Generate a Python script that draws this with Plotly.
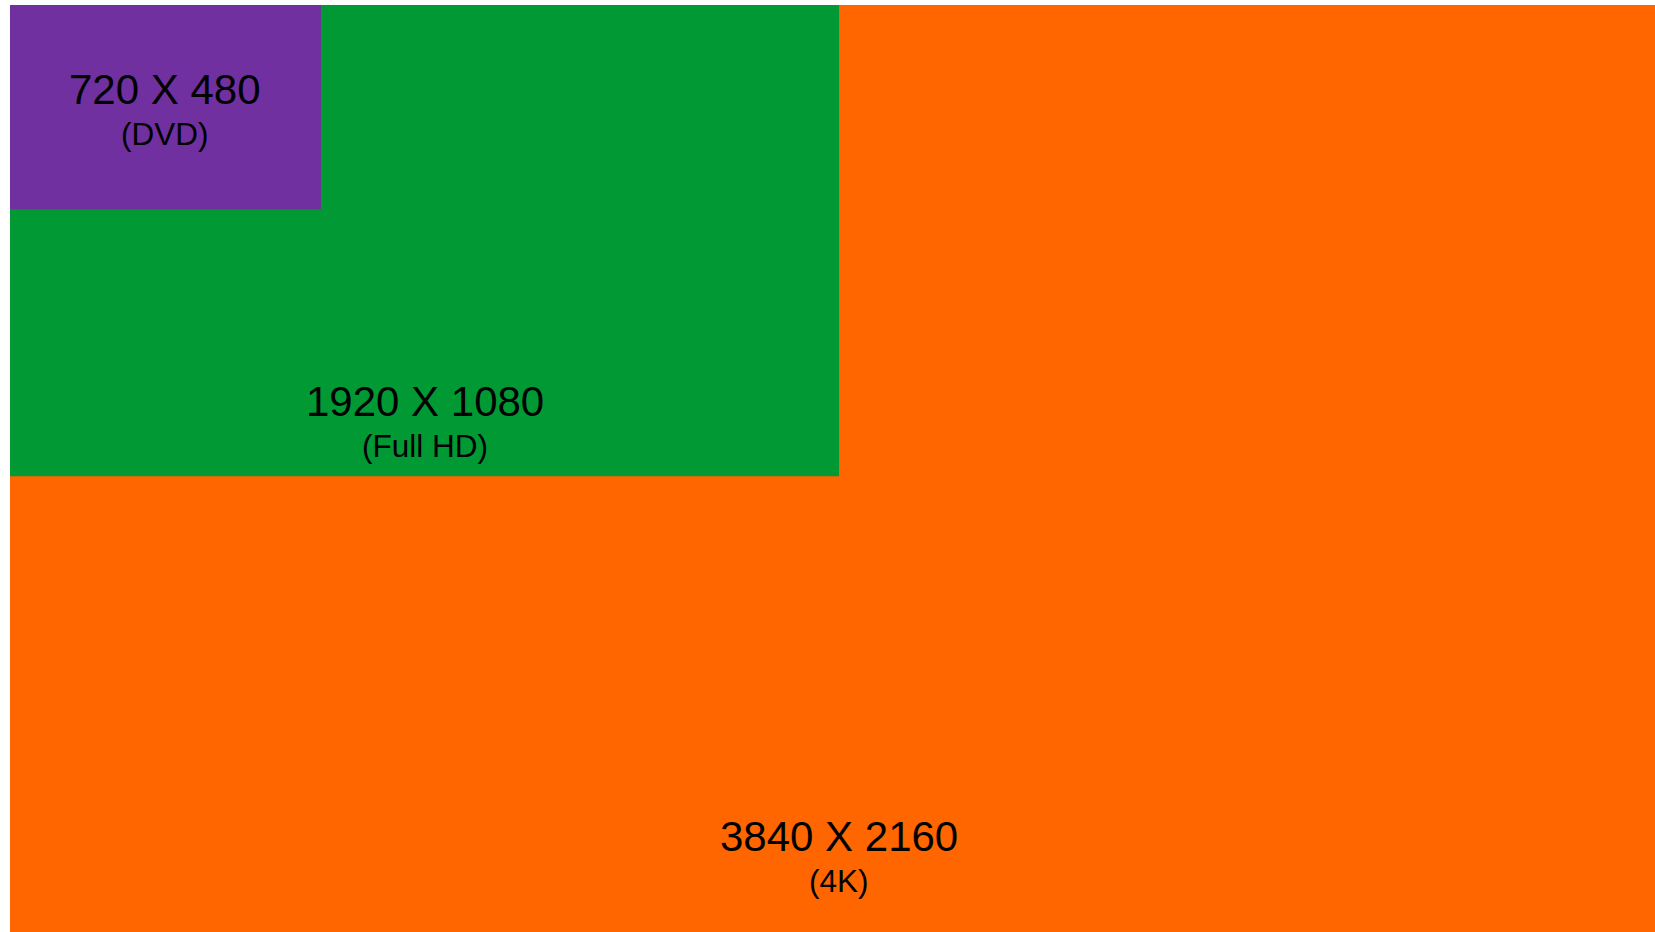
import plotly.graph_objects as go

# Data
names = ["3840 X 2160", "1920 X 1080", "720 X 480"]
subtitles = ["(4K)", "(Full HD)", "(DVD)"]
widths = [3840, 1920, 720]
heights = [2160, 1080, 480]
colors = ["#FF6600", "#009933", "#7030A0"]

# label vertical placement (fraction of each rectangle's height)
label_frac = [0.894, 0.883, 0.526]

fig = go.Figure()

# invisible trace to establish axes
fig.add_trace(go.Scatter(x=[0, widths[0]], y=[0, heights[0]], mode="markers",
                         marker=dict(opacity=0), hoverinfo="skip", showlegend=False))

for w, h, c in zip(widths, heights, colors):
    fig.add_shape(type="rect", xref="x", yref="y", x0=0, y0=0, x1=w, y1=h,
                  fillcolor=c, line=dict(width=0), layer="below")

FONT = "Arial, Liberation Sans, sans-serif"
for w, h, n, s, f in zip(widths, heights, names, subtitles, label_frac):
    fig.add_annotation(x=w / 2, y=h * f, xref="x", yref="y", text=n, showarrow=False,
                       font=dict(size=42, color="black", family=FONT),
                       yshift=18.5, xanchor="center", yanchor="middle")
    fig.add_annotation(x=w / 2, y=h * f, xref="x", yref="y", text=s, showarrow=False,
                       font=dict(size=31.5, color="black", family=FONT),
                       yshift=-26, xanchor="center", yanchor="middle")

fig.update_xaxes(visible=False, range=[0, 3809.6], fixedrange=True)
fig.update_yaxes(visible=False, range=[2104, 20.9], fixedrange=True)
fig.update_layout(width=1655, height=932, autosize=False,
                  margin=dict(l=10, r=0, t=5, b=0, pad=0), paper_bgcolor="white",
                  plot_bgcolor="white", showlegend=False)

fig.write_html("out.html", config={"displayModeBar": False},
               post_script="document.body.style.margin='0px';")
